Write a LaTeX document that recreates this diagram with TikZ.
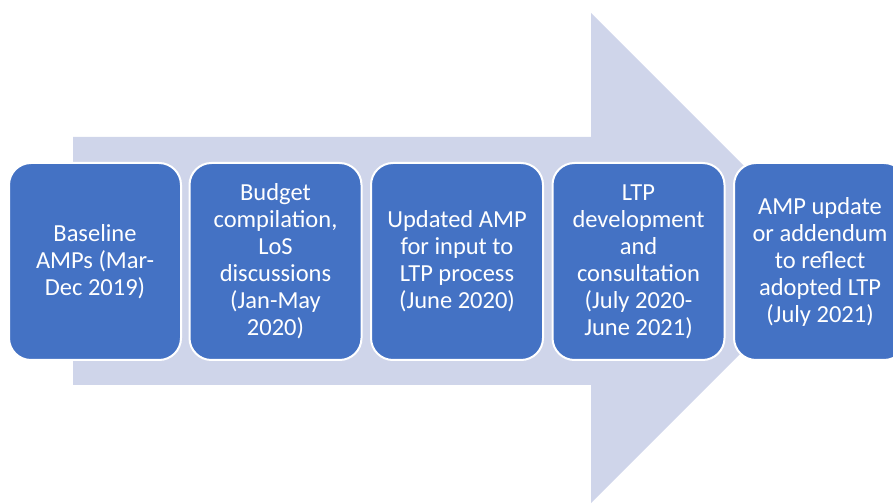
\documentclass[tikz,border=0pt]{standalone}
\usepackage{fontspec}
\setmainfont{Carlito}
\definecolor{boxblue}{HTML}{4472C4}
\definecolor{arrowfill}{HTML}{CFD5EA}
\begin{document}
\begin{tikzpicture}[x=1pt,y=1pt,
  stagebox/.style={draw=white, line width=2pt, fill=boxblue, rounded corners=22pt,
    minimum width=172pt, minimum height=197pt, text=white, align=center,
    font=\fontsize{24.5}{27}\selectfont, inner sep=0pt, anchor=north west}]
\useasboundingbox (0,0) rectangle (893,503);
\clip (0,0) rectangle (893,503);
% big arrow (y measured from top: y_tikz = 503 - y_px)
\fill[arrowfill] (73,366) -- (591,366) -- (591,490) -- (836,245) -- (591,0) -- (591,118) -- (73,118) -- cycle;
\node[stagebox] (s1) at (8,341) {Baseline\\AMPs (Mar-\\Dec 2019)};
\node[stagebox] (s2) at (188.5,341) {Budget\\compilation,\\LoS\\discussions\\(Jan-May\\2020)};
\node[stagebox] (s3) at (370,341) {Updated AMP\\for input to\\LTP process\\(June 2020)};
\node[stagebox] (s4) at (551.5,341) {LTP\\development\\and\\consultation\\(July 2020-\\June 2021)};
\node[stagebox] (s5) at (733,341) {AMP update\\or addendum\\to reflect\\adopted LTP\\(July 2021)};
\end{tikzpicture}
\end{document}
